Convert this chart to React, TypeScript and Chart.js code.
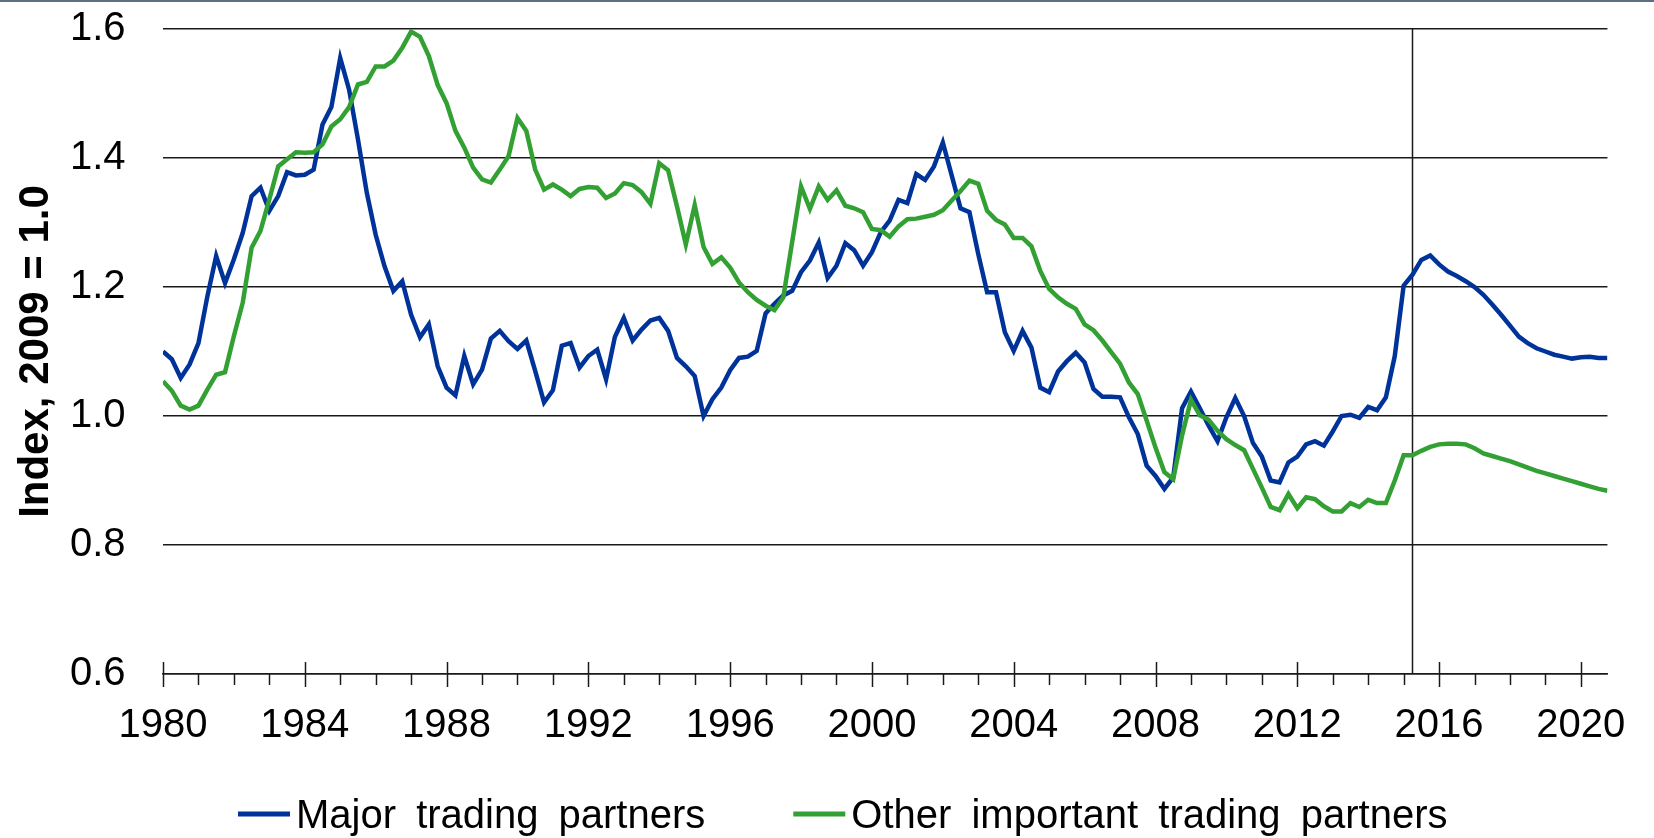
import React, { useEffect, useRef } from "react";
import { Chart, registerables } from "chart.js";

Chart.register(...registerables);

// ---- Data (quarterly, starting 1980 Q1) ----
const START_YEAR = 1980;
const MAJOR_TRADING = [
  1.100, 1.088, 1.059, 1.080,
  1.113, 1.185, 1.248, 1.206,
  1.243, 1.284, 1.341, 1.354,
  1.318, 1.341, 1.378, 1.373,
  1.374, 1.382, 1.452, 1.479,
  1.555, 1.506, 1.429, 1.346,
  1.281, 1.232, 1.194, 1.209,
  1.157, 1.122, 1.142, 1.077,
  1.044, 1.032, 1.093, 1.049,
  1.072, 1.120, 1.132, 1.116,
  1.104, 1.117, 1.070, 1.021,
  1.040, 1.109, 1.113, 1.075,
  1.093, 1.103, 1.057, 1.123,
  1.152, 1.117, 1.134, 1.148,
  1.152, 1.132, 1.090, 1.077,
  1.062, 1.000, 1.026, 1.044,
  1.071, 1.090, 1.092, 1.101,
  1.159, 1.174, 1.187, 1.194,
  1.223, 1.241, 1.269, 1.214,
  1.233, 1.268, 1.257, 1.233,
  1.254, 1.285, 1.303, 1.335,
  1.330, 1.375, 1.366, 1.387,
  1.424, 1.373, 1.322, 1.316,
  1.251, 1.192, 1.192, 1.130,
  1.101, 1.132, 1.106, 1.044,
  1.037, 1.069, 1.085, 1.098,
  1.083, 1.042, 1.030, 1.030,
  1.029, 0.998, 0.972, 0.923,
  0.907, 0.887, 0.905, 1.012,
  1.038, 1.012, 0.985, 0.961,
  0.998, 1.028, 1.000, 0.958,
  0.937, 0.900, 0.897, 0.928,
  0.937, 0.956, 0.961, 0.954,
  0.976, 1.000, 1.002, 0.997,
  1.014, 1.009, 1.029, 1.093,
  1.202, 1.219, 1.242, 1.249,
  1.235, 1.224, 1.217, 1.209,
  1.200, 1.188, 1.173, 1.157,
  1.140, 1.123, 1.113, 1.105,
  1.100, 1.095, 1.092, 1.089,
  1.091, 1.092, 1.090, 1.090,
];
const OTHER_IMPORTANT = [
  1.054, 1.039, 1.016, 1.010,
  1.016, 1.041, 1.064, 1.068,
  1.124, 1.176, 1.261, 1.287,
  1.336, 1.387, 1.398, 1.409,
  1.408, 1.409, 1.421, 1.449,
  1.460, 1.479, 1.514, 1.518,
  1.542, 1.542, 1.551, 1.571,
  1.596, 1.588, 1.558, 1.513,
  1.485, 1.442, 1.416, 1.385,
  1.367, 1.362, 1.382, 1.403,
  1.462, 1.442, 1.382, 1.351,
  1.359, 1.351, 1.341, 1.352,
  1.355, 1.354, 1.338, 1.345,
  1.361, 1.358, 1.347, 1.329,
  1.392, 1.381, 1.325, 1.266,
  1.327, 1.262, 1.236, 1.246,
  1.230, 1.207, 1.192, 1.180,
  1.171, 1.164, 1.184, 1.270,
  1.356, 1.321, 1.356, 1.335,
  1.350, 1.326, 1.322, 1.316,
  1.290, 1.288, 1.278, 1.294,
  1.305, 1.306, 1.309, 1.312,
  1.319, 1.334, 1.349, 1.365,
  1.360, 1.318, 1.304, 1.297,
  1.276, 1.276, 1.263, 1.225,
  1.197, 1.184, 1.174, 1.166,
  1.142, 1.133, 1.117, 1.099,
  1.081, 1.052, 1.034, 0.993,
  0.951, 0.913, 0.902, 0.970,
  1.025, 1.001, 0.994, 0.977,
  0.964, 0.955, 0.947, 0.918,
  0.889, 0.859, 0.854, 0.879,
  0.857, 0.874, 0.871, 0.860,
  0.852, 0.852, 0.865, 0.859,
  0.870, 0.865, 0.865, 0.900,
  0.939, 0.939, 0.946, 0.952,
  0.956, 0.957, 0.957, 0.956,
  0.950, 0.942, 0.938, 0.934,
  0.930, 0.925, 0.920, 0.915,
  0.911, 0.907, 0.903, 0.899,
  0.895, 0.891, 0.887, 0.884,
];
const SERIES_NAMES = ["Major trading partners", "Other important trading partners"];
const X_TICKS = [1980, 1984, 1988, 1992, 1996, 2000, 2004, 2008, 2012, 2016, 2020];
const Y_TICKS = [0.6, 0.8, 1.0, 1.2, 1.4, 1.6];
const Y_TITLE = "Index, 2009 = 1.0";
const MARKER_YEAR = 2015.25;
const X_MIN = 1980;
const X_MAX = 2020.75;

// ---- Styles ----
const BLUE = "#003399";
const GREEN = "#33a033";
const AXIS = "#1a1a1a";
const FONT = "'Liberation Sans', Arial, sans-serif";

const toPoints = (arr: number[]) => arr.map((v, i) => ({ x: START_YEAR + i / 4, y: v }));

const overlay = {
  id: "overlay",
  beforeDatasetsDraw(chart: any) {
    const { ctx, chartArea: a } = chart;
    const xs = chart.scales.x;
    ctx.save();
    ctx.strokeStyle = AXIS;
    ctx.lineWidth = 1.5;
    // yearly tick marks (major every 4 years cross the axis)
    for (let yr = Math.ceil(X_MIN); yr <= X_MAX; yr++) {
      const px = Math.round(xs.getPixelForValue(yr)) + 0.5;
      ctx.beginPath();
      if (X_TICKS.includes(yr)) {
        ctx.moveTo(px, a.bottom - 12);
        ctx.lineTo(px, a.bottom + 13);
      } else {
        ctx.moveTo(px, a.bottom);
        ctx.lineTo(px, a.bottom + 11);
      }
      ctx.stroke();
    }
    // vertical marker line
    const mx = Math.round(xs.getPixelForValue(MARKER_YEAR)) + 0.5;
    ctx.beginPath();
    ctx.moveTo(mx, a.top);
    ctx.lineTo(mx, a.bottom);
    ctx.stroke();
    ctx.restore();
  },
  afterDraw(chart: any) {
    const { ctx, chartArea: a } = chart;
    ctx.save();
    // top frame line
    ctx.fillStyle = "#5f6f82";
    ctx.fillRect(0, 0, chart.width, 2);

    // y-axis title
    ctx.translate(36, (a.top + a.bottom) / 2);
    ctx.rotate(-Math.PI / 2);
    ctx.font = `bold 42px ${FONT}`;
    ctx.fillStyle = "#000";
    ctx.textAlign = "center";
    ctx.textBaseline = "middle";
    ctx.fillText(Y_TITLE, 0, 0);
    ctx.setTransform(1, 0, 0, 1, 0, 0);

    // legend
    ctx.font = `40px ${FONT}`;
    ctx.textAlign = "left";
    ctx.textBaseline = "alphabetic";
    const colors = [BLUE, GREEN];
    const spaceW = ctx.measureText(" ").width + 9;
    let x = 238;
    const lineY = 814;
    const baseY = 828;
    SERIES_NAMES.forEach((name, i) => {
      ctx.strokeStyle = colors[i];
      ctx.lineWidth = 5;
      ctx.beginPath();
      ctx.moveTo(x, lineY);
      ctx.lineTo(x + 52, lineY);
      ctx.stroke();
      x += 58;
      ctx.fillStyle = "#000";
      name.split(" ").forEach((w, j, arr) => {
        ctx.fillText(w, x, baseY);
        x += ctx.measureText(w).width + (j < arr.length - 1 ? spaceW : 0);
      });
      x += 88;
    });
    ctx.restore();
  },
};

export default function App() {
  const ref = useRef<HTMLCanvasElement | null>(null);

  useEffect(() => {
    document.body.style.margin = "0";
    const canvas = ref.current;
    if (!canvas) return;
    const chart = new Chart(canvas, {
      type: "line",
      data: {
        datasets: [
          {
            label: SERIES_NAMES[0],
            data: toPoints(MAJOR_TRADING),
            borderColor: BLUE,
            backgroundColor: BLUE,
            borderWidth: 4.5,
            pointRadius: 0,
            tension: 0,
            order: 1,
          },
          {
            label: SERIES_NAMES[1],
            data: toPoints(OTHER_IMPORTANT),
            borderColor: GREEN,
            backgroundColor: GREEN,
            borderWidth: 4.5,
            pointRadius: 0,
            tension: 0,
            order: 0,
          },
        ],
      },
      options: {
        responsive: false,
        animation: false,
        devicePixelRatio: 1,
        layout: { padding: { top: 29, right: 35, left: 70, bottom: 0 } },
        plugins: {
          legend: { display: false },
          tooltip: { enabled: false },
          title: { display: false },
        },
        scales: {
          x: {
            type: "linear",
            min: X_MIN,
            max: X_MAX,
            afterFit: (s: any) => {
              s.height = 164;
            },
            afterBuildTicks: (s: any) => {
              s.ticks = X_TICKS.map((v) => ({ value: v }));
            },
            grid: { display: false, drawTicks: false },
            border: { display: true, color: AXIS, width: 1.5 },
            ticks: {
              autoSkip: false,
              maxRotation: 0,
              padding: 28,
              color: "#000",
              font: { family: FONT, size: 40 },
              callback: (v: any) => String(v),
            },
          },
          y: {
            min: 0.6,
            max: 1.6,
            afterFit: (s: any) => {
              s.width = 93;
            },
            afterBuildTicks: (s: any) => {
              s.ticks = Y_TICKS.map((v) => ({ value: v }));
            },
            grid: { display: true, color: AXIS, lineWidth: 1.5, drawTicks: false },
            border: { display: false },
            ticks: {
              padding: 0,
              crossAlign: "far",
              color: "#000",
              font: { family: FONT, size: 40, lineHeight: 1 },
              callback: (v: any) => Number(v).toFixed(1),
            },
          },
        },
      },
      plugins: [overlay],
    });
    return () => chart.destroy();
  }, []);

  return (
    <div style={{ width: 1654, height: 838, background: "#fff" }}>
      <canvas ref={ref} width={1654} height={838} style={{ display: "block" }} />
    </div>
  );
}
